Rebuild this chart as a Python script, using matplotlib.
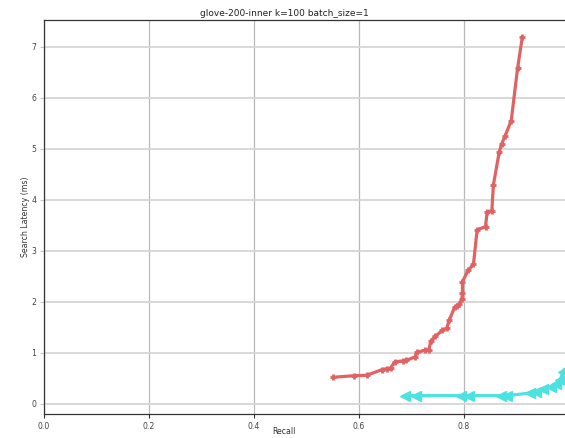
import matplotlib
matplotlib.use("Agg")
import matplotlib.pyplot as plt

# Recall / latency trade-off for two index configurations
red_recall = [0.551, 0.590, 0.615, 0.644, 0.653, 0.660, 0.668, 0.683, 0.690, 0.707,
              0.710, 0.726, 0.733, 0.737, 0.745, 0.759, 0.767, 0.772, 0.782, 0.786,
              0.791, 0.796, 0.797, 0.797, 0.808, 0.818, 0.825, 0.841, 0.844, 0.853,
              0.856, 0.867, 0.872, 0.878, 0.890, 0.902, 0.911]
red_latency = [0.52, 0.55, 0.56, 0.67, 0.69, 0.70, 0.82, 0.84, 0.85, 0.92,
               1.01, 1.05, 1.06, 1.23, 1.32, 1.44, 1.48, 1.64, 1.89, 1.92,
               1.95, 2.05, 2.18, 2.39, 2.62, 2.73, 3.41, 3.47, 3.76, 3.78,
               4.29, 4.93, 5.10, 5.24, 5.55, 6.57, 7.18]

cyan_recall = [0.688, 0.709, 0.794, 0.810, 0.870, 0.882, 0.926, 0.937, 0.950,
               0.966, 0.975, 0.983, 0.989, 0.996]
cyan_latency = [0.16, 0.16, 0.16, 0.16, 0.16, 0.16, 0.21, 0.24, 0.29,
                0.33, 0.39, 0.47, 0.63, 0.68]

x_ticks = [0.0, 0.2, 0.4, 0.6, 0.8]
y_ticks = [0, 1, 2, 3, 4, 5, 6, 7]

title = "glove-200-inner k=100 batch_size=1"

fig = plt.figure(figsize=(5.65, 4.38), dpi=100)
ax = fig.add_axes([44 / 565, 24 / 438, 525 / 565, 394 / 438])

ax.plot(red_recall, red_latency, color="#e06262", lw=2.3, marker="+",
        markersize=5, markeredgewidth=2, zorder=3)
ax.plot(cyan_recall, cyan_latency, color="#4ce2e2", lw=2.3, marker="<",
        markersize=7.5, zorder=3)

ax.set_xlim(0, 1.0)
ax.set_ylim(-0.2, 7.52)
ax.set_xticks(x_ticks)
ax.set_yticks(y_ticks)
ax.xaxis.grid(True, color="#b8b8b8", lw=0.9)
ax.yaxis.grid(True, color="#d6d6d6", lw=1.3)
ax.set_axisbelow(True)

ax.tick_params(axis="both", labelsize=5.6, labelcolor="#444444", length=3, pad=2.5)
ax.tick_params(axis="x", color="#333333")
ax.tick_params(axis="y", color="#c8c8c8")
for s in ax.spines.values():
    s.set_color("#333333")
    s.set_linewidth(0.9)

ax.set_xlabel("Recall", fontsize=5.6, color="#333333", va="bottom")
ax.xaxis.set_label_coords(0.457, -0.056)
ax.set_ylabel("Search Latency (ms)", fontsize=5.6, color="#333333")
ax.yaxis.set_label_coords(-0.027, 0.5)
ax.set_title(title, fontsize=6.5, color="#222222", x=0.457, pad=3)

fig.savefig("out.png", dpi=100)
